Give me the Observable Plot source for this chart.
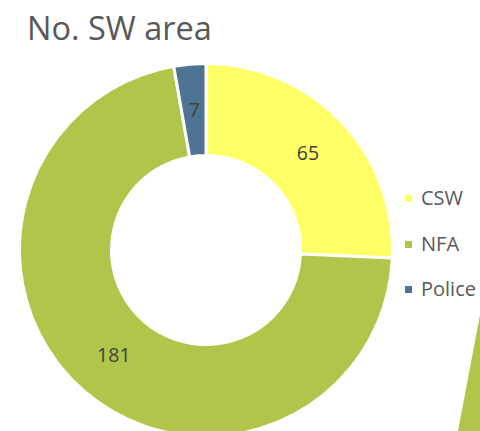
<!DOCTYPE html>
<html><head><meta charset="utf-8">
<script src="https://cdn.jsdelivr.net/npm/d3@7"></script>
<script src="https://cdn.jsdelivr.net/npm/@observablehq/plot@0.6"></script>
<style>
html,body{margin:0;padding:0;background:#fff;}
#wrap{position:relative;width:480px;height:431px;overflow:hidden;font-family:"Open Sans",sans-serif;}
#title{height:56px;box-sizing:border-box;padding-top:11px;padding-left:27px;font-size:32.5px;line-height:33px;color:#595959;white-space:nowrap;}
#chart svg{display:block;}
.lg-row{position:absolute;left:405px;height:20px;font-size:20px;line-height:20px;color:#595959;white-space:nowrap;}
.lg-sw{position:absolute;left:0;top:6.5px;width:7px;height:7px;}
.lg-tx{position:absolute;left:16px;top:0;}
#deco{position:absolute;left:0;top:0;width:480px;height:431px;background:#AFC64B;clip-path:polygon(480px 315px,480px 431px,458px 431px);pointer-events:none;}
</style></head><body>
<div id="wrap">
  <div id="title">No. SW area</div>
  <div id="chart"></div>
  <div id="legend"></div>
  <div id="deco"></div>
</div>
<script>
const categories = ["CSW", "NFA", "Police"];
const values = [65, 181, 7];
const colors = ["#FFFF66", "#AFC64B", "#4F7392"];

const data = categories.map((c, i) => ({category: c, value: values[i]}));
const colorScale = Plot.scale({color: {type: "ordinal", domain: categories, range: colors}});

const R_IN = 0.507;
const arcs = d3.pie().sort(null).value(d => d.value)(data);
const labels = arcs.map(a => {
  const m = (a.startAngle + a.endAngle) / 2, r = (1 + R_IN) / 2;
  return {category: a.data.category, value: a.data.value, x: r * Math.sin(m), y: r * Math.cos(m)};
});

const cx = 206, cy = 194, R = 186.5;

const chart = Plot.plot({
  width: 480,
  height: 375,
  margin: 0,
  style: {fontFamily: "Open Sans", background: "transparent"},
  x: {domain: [-1, 1], range: [cx - R, cx + R], axis: null},
  y: {domain: [-1, 1], range: [cy + R, cy - R], axis: null},
  marks: [
    (index, scales) => {
      const ox = scales.x(0), oy = scales.y(0), r = scales.x(1) - scales.x(0);
      const arc = d3.arc().innerRadius(r * R_IN).outerRadius(r);
      const g = d3.create("svg:g").attr("transform", `translate(${ox},${oy})`);
      g.selectAll("path").data(arcs).join("path")
        .attr("d", arc)
        .attr("fill", d => colorScale.apply(d.data.category))
        .attr("stroke", "white")
        .attr("stroke-width", 3)
        .attr("stroke-linejoin", "miter");
      return g.node();
    },
    Plot.text(labels, {x: "x", y: "y", text: d => String(d.value), fontSize: 19.5, fill: "#404040"})
  ]
});
document.getElementById("chart").appendChild(chart);

const legend = document.getElementById("legend");
const legendTops = [188, 234, 279];
categories.forEach((c, i) => {
  const row = document.createElement("div");
  row.className = "lg-row";
  row.style.top = legendTops[i] + "px";
  const sw = document.createElement("div");
  sw.className = "lg-sw";
  sw.style.background = colorScale.apply(c);
  const tx = document.createElement("div");
  tx.className = "lg-tx";
  tx.textContent = c;
  row.appendChild(sw); row.appendChild(tx);
  legend.appendChild(row);
});
</script>
</body></html>
